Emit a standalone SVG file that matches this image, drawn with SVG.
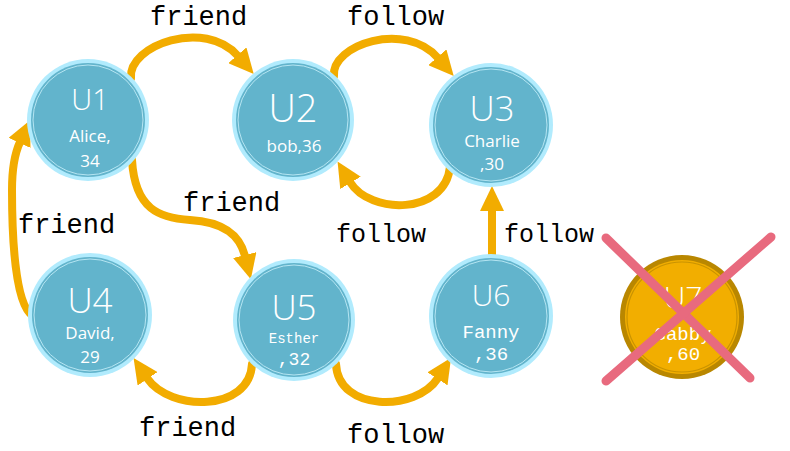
<svg xmlns="http://www.w3.org/2000/svg" width="790" height="451" viewBox="0 0 790 451">
<defs>
<style>
.ring{fill:#b1ebfd}
.core{fill:#62b4cc}
.inner{fill:none;stroke:#b5e5f2;stroke-width:1}
.ring7{fill:#b98700}
.core7{fill:#f2ae00}
.inner7{fill:none;stroke:#c99300;stroke-width:1.2}
.id{font-family:"Open Sans","Noto Sans",sans-serif;font-weight:300;fill:#fff;text-anchor:middle}
.sub{font-family:"Open Sans","Noto Sans",sans-serif;fill:#fff;text-anchor:middle;font-size:17px}
.mono{font-family:"Liberation Mono","DejaVu Sans Mono",monospace;fill:#fff;text-anchor:middle}
.edge{fill:none;stroke:#f2ac00;stroke-width:8;stroke-linecap:round}
.lbl{font-family:"Liberation Mono","Courier New",monospace;fill:#000;font-size:27px}
.lbs{font-family:"Liberation Mono","Courier New",monospace;fill:#000;font-size:25px}
.x{stroke:#e86a7e;stroke-width:9;stroke-linecap:round}
</style>
<marker id="ah" viewBox="0 0 25 24" markerWidth="25" markerHeight="24" markerUnits="userSpaceOnUse" refX="1" refY="12" orient="auto">
<path d="M0,0 L25,12 L0,24 z" fill="#f2ac00"/>
</marker>
</defs>
<g id="connectors">
<path class="edge" marker-end="url(#ah)" d="M131,78 C128,45 205,18 238,56"/>
<path class="edge" marker-end="url(#ah)" d="M334,76 C331,45 405,20 438,58"/>
<path class="edge" marker-end="url(#ah)" d="M450,167 C445,215 370,215 350,182"/>
<path class="edge" marker-end="url(#ah)" d="M132,160 C135,210 160,218 190,220 C225,222 240,236 245,256"/>
<path class="edge" marker-end="url(#ah)" d="M33,316 C14,305 12,230 12,190 C12,170 14,155 20,142"/>
<path class="edge" marker-end="url(#ah)" d="M252,364 C250,412 170,412 147,378"/>
<path class="edge" marker-end="url(#ah)" d="M336,364 C338,412 416,412 438,378"/>
<path class="edge" marker-end="url(#ah)" d="M492,257 L492,210"/>
<text class="lbl" x="150" y="25">friend</text>
<text class="lbl" x="347" y="25">follow</text>
<text class="lbl" x="183" y="211">friend</text>
<text class="lbl" x="18" y="233">friend</text>
<text class="lbs" x="336" y="242">follow</text>
<text class="lbs" x="504" y="242">follow</text>
<text class="lbl" x="139" y="436">friend</text>
<text class="lbl" x="347" y="443">follow</text>
</g>
<g id="u1">
<circle class="ring" cx="88" cy="120" r="61"/><circle class="core" cx="88" cy="120" r="57"/><circle class="inner" cx="88" cy="120" r="55"/>
<text class="id" x="90" y="110" font-size="29">U1</text>
<text class="sub" x="90" y="142">Alice,</text>
<text class="sub" x="90" y="167">34</text>
</g>
<g id="u2">
<circle class="ring" cx="293" cy="120" r="61"/><circle class="core" cx="293" cy="120" r="57"/><circle class="inner" cx="293" cy="120" r="55"/>
<text class="id" x="293" y="122" font-size="38">U2</text>
<text class="sub" x="294" y="152">bob,36</text>
</g>
<g id="u3">
<circle class="ring" cx="491" cy="125" r="62"/><circle class="core" cx="491" cy="125" r="58"/><circle class="inner" cx="491" cy="125" r="56"/>
<text class="id" x="492" y="121" font-size="35">U3</text>
<text class="sub" x="492" y="147">Charlie</text>
<text class="sub" x="492" y="170">,30</text>
</g>
<g id="u4">
<circle class="ring" cx="90" cy="315" r="62"/><circle class="core" cx="90" cy="315" r="58"/><circle class="inner" cx="90" cy="315" r="56"/>
<text class="id" x="90" y="313" font-size="35">U4</text>
<text class="sub" x="90" y="339">David,</text>
<text class="sub" x="90" y="363">29</text>
</g>
<g id="u5">
<circle class="ring" cx="294" cy="320" r="61"/><circle class="core" cx="294" cy="320" r="57"/><circle class="inner" cx="294" cy="320" r="55"/>
<text class="id" x="294" y="320" font-size="35">U5</text>
<text class="mono" x="294" y="343" font-size="14">Esther</text>
<text class="mono" x="294" y="365" font-size="18">,32</text>
</g>
<g id="u6">
<circle class="ring" cx="491" cy="316" r="62"/><circle class="core" cx="491" cy="316" r="58"/><circle class="inner" cx="491" cy="316" r="56"/>
<text class="id" x="491" y="306" font-size="30">U6</text>
<text class="mono" x="491" y="338" font-size="19">Fanny</text>
<text class="mono" x="491" y="360" font-size="19">,36</text>
</g>
<g id="u7">
<circle class="ring7" cx="682" cy="317" r="62"/><circle class="core7" cx="682" cy="317" r="57"/><circle class="inner7" cx="682" cy="317" r="55"/>
<text class="id" x="683" y="308" font-size="30">U7</text>
<text class="mono" x="683" y="340" font-size="19">Gabby</text>
<text class="mono" x="683" y="360" font-size="19">,60</text>
<line class="x" x1="606" y1="238" x2="750" y2="378"/>
<line class="x" x1="606" y1="381" x2="771" y2="237"/>
</g>
</svg>
